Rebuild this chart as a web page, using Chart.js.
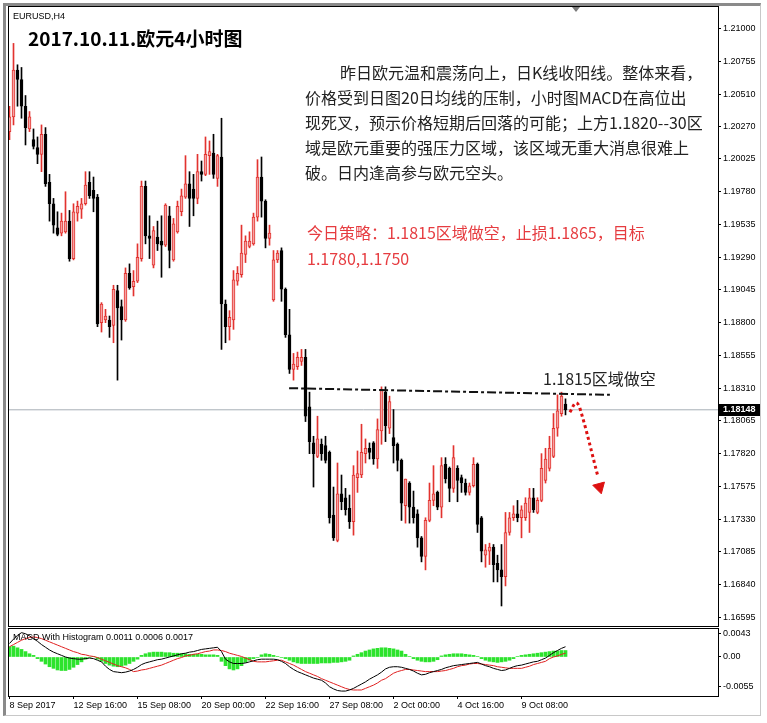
<!DOCTYPE html>
<html>
<head>
<meta charset="utf-8">
<script src="https://cdn.jsdelivr.net/npm/chart.js@4.4.1/dist/chart.umd.min.js"></script>
<style>
  body { margin:0; background:#fff; width:767px; height:723px; position:relative; overflow:hidden; font-family:"Liberation Sans", Arial, sans-serif; }
  .abs { position:absolute; }
  #outer { left:3px; top:3px; width:758px; height:713px; box-sizing:border-box; border-style:solid; border-width:3px 1px 1px 3px; border-color:#8a8a8a #c8c8c8 #c8c8c8 #8a8a8a; }
  #mainFrame { left:8px; top:6px; width:711px; height:621px; box-sizing:border-box; border:1px solid #000; }
  #macdFrame { left:8px; top:628px; width:711px; height:69px; box-sizing:border-box; border:1px solid #000; }
  #shiftMark { left:572px; top:7px; width:0; height:0; border-left:4px solid transparent; border-right:4px solid transparent; border-top:5px solid #7a7a7a; }
  .small { font-size:9px; line-height:12px; color:#000; white-space:pre; }
  .cjk { font-family:"Noto Sans CJK SC", sans-serif; white-space:pre; }
  #title { left:28px; top:26px; font-size:19px; line-height:24px; font-weight:bold; color:#000; }
  #para { left:305px; top:60px; font-size:16px; line-height:25px; color:#222; text-indent:35px; }
  #strategy { left:307px; top:219px; font-size:16px; line-height:26px; color:#e63c40; }
  #zone { left:543px; top:366px; font-size:16px; line-height:25px; color:#222; }
</style>
</head>
<body>
<canvas id="main" class="abs" width="767" height="628" style="left:0;top:0"></canvas>
<canvas id="macd" class="abs" width="767" height="103" style="left:0;top:620px"></canvas>

<div id="outer" class="abs"></div>
<div id="mainFrame" class="abs"></div>
<div id="macdFrame" class="abs"></div>
<div id="shiftMark" class="abs"></div>

<div class="abs small" style="left:13px;top:10px">EURUSD,H4</div>
<div id="title" class="abs cjk">2017.10.11.欧元4小时图</div>
<div id="para" class="abs cjk">昨日欧元温和震荡向上，日K线收阳线。整体来看，
价格受到日图20日均线的压制，小时图MACD在高位出
现死叉，预示价格短期后回落的可能；上方1.1820--30区
域是欧元重要的强压力区域，该区域无重大消息很难上
破。日内逢高参与欧元空头。</div>
<div id="strategy" class="abs cjk">今日策略：1.1815区域做空，止损1.1865，目标
1.1780,1.1750</div>
<div id="zone" class="abs cjk">1.1815区域做空</div>
<div class="abs small" style="left:13px;top:631px">MACD With Histogram 0.0011 0.0006 0.0017</div>

<script>
// EURUSD H4, 8 Sep 2017 00:00 -> 11 Oct 2017 04:00 (140 bars)
const opens = [
  1.2023,1.2034,1.2069,1.2062,1.2042,1.2025,1.2017,1.2011,1.2006,1.2021,
  1.1985,1.1969,1.1951,1.1947,1.1948,1.1956,1.1928,1.1962,1.1965,1.1969,
  1.1985,1.1979,1.1974,1.1880,1.1882,1.1882,1.1878,1.1904,1.1892,1.1882,
  1.1917,1.1907,1.1911,1.1928,1.1982,1.1945,1.1923,1.1944,1.1941,1.1938,
  1.1960,1.1927,1.1948,1.1963,1.1974,1.1984,1.1980,1.1973,1.1993,1.1991,
  1.2005,1.2007,1.1988,1.2004,1.1894,1.1877,1.1882,1.1911,1.1916,1.1931,
  1.1937,1.1939,1.1959,1.1989,1.1971,1.1943,1.1897,1.1927,1.1934,1.1905,
  1.1871,1.1845,1.1847,1.1851,1.1854,1.1817,1.1790,1.1780,1.1789,1.1788,
  1.1783,1.1736,1.1717,1.1752,1.1749,1.1741,1.1731,1.1764,1.1766,1.1782,
  1.1786,1.1790,1.1778,1.1799,1.1828,1.1801,1.1794,1.1789,1.1777,1.1743,
  1.1760,1.1742,1.1737,1.1719,1.1705,1.1732,1.1747,1.1753,1.1742,1.1774,
  1.1771,1.1756,1.1771,1.1764,1.1760,1.1753,1.1758,1.1774,1.1734,1.1706,
  1.1709,1.1712,1.1700,1.1695,1.1690,1.1723,1.1734,1.1737,1.1734,1.1734,
  1.1738,1.1749,1.1738,1.1747,1.1762,1.1771,1.1780,1.1801,1.1812,1.1819
];
const highs = [
  1.2042,1.2089,1.2073,1.2071,1.2050,1.2038,1.2025,1.2019,1.2028,1.2026,
  1.1991,1.1973,1.1963,1.1962,1.1978,1.1964,1.1969,1.1971,1.1973,1.1993,
  1.1993,1.1989,1.1976,1.1895,1.1890,1.1885,1.1908,1.1908,1.1897,1.1921,
  1.1924,1.1919,1.1939,1.1986,1.1986,1.1960,1.1952,1.1956,1.1960,1.1969,
  1.1967,1.1958,1.1971,1.1980,1.2005,1.1993,1.1991,1.2006,1.2001,1.2019,
  1.2016,1.2021,1.2006,1.2033,1.1897,1.1889,1.1919,1.1922,1.1953,1.1945,
  1.1948,1.1962,1.2002,1.2004,1.1972,1.1953,1.1934,1.1934,1.1936,1.1906,
  1.1890,1.1857,1.1858,1.1860,1.1860,1.1828,1.1795,1.1810,1.1793,1.1795,
  1.1784,1.1757,1.1775,1.1766,1.1756,1.1751,1.1773,1.1784,1.1804,1.1793,
  1.1790,1.1791,1.1808,1.1832,1.1832,1.1825,1.1815,1.1790,1.1778,1.1763,
  1.1761,1.1754,1.1740,1.1720,1.1734,1.1760,1.1773,1.1754,1.1779,1.1779,
  1.1772,1.1788,1.1773,1.1766,1.1763,1.1760,1.1779,1.1775,1.1735,1.1714,
  1.1715,1.1714,1.1706,1.1714,1.1738,1.1738,1.1743,1.1747,1.1743,1.1749,
  1.1756,1.1756,1.1749,1.1782,1.1786,1.1795,1.1812,1.1826,1.1828,1.1823
];
const lows = [
  1.2017,1.2028,1.2042,1.2033,1.2013,1.2023,1.2010,1.1999,1.1993,1.1982,
  1.1956,1.1947,1.1945,1.1945,1.1947,1.1926,1.1927,1.1956,1.1958,1.1968,
  1.1973,1.1963,1.1877,1.1873,1.1880,1.1869,1.1865,1.1837,1.1867,1.1881,
  1.1905,1.1900,1.1910,1.1926,1.1939,1.1928,1.1921,1.1934,1.1914,1.1937,
  1.1921,1.1926,1.1947,1.1960,1.1973,1.1952,1.1960,1.1969,1.1986,1.1990,
  1.1991,1.1988,1.1982,1.1860,1.1865,1.1867,1.1875,1.1908,1.1914,1.1925,
  1.1936,1.1938,1.1956,1.1959,1.1936,1.1938,1.1896,1.1925,1.1896,1.1869,
  1.1842,1.1837,1.1845,1.1848,1.1806,1.1782,1.1757,1.1779,1.1777,1.1775,
  1.1730,1.1717,1.1716,1.1740,1.1736,1.1726,1.1721,1.1753,1.1764,1.1775,
  1.1778,1.1774,1.1771,1.1789,1.1791,1.1797,1.1775,1.1769,1.1732,1.1730,
  1.1730,1.1730,1.1712,1.1701,1.1695,1.1731,1.1743,1.1740,1.1734,1.1760,
  1.1746,1.1753,1.1746,1.1753,1.1751,1.1751,1.1757,1.1723,1.1701,1.1697,
  1.1699,1.1686,1.1686,1.1668,1.1683,1.1721,1.1732,1.1731,1.1719,1.1732,
  1.1723,1.1738,1.1737,1.1746,1.1760,1.1769,1.1779,1.1795,1.1810,1.1811
];
const closes = [
  1.2034,1.2069,1.2062,1.2042,1.2026,1.2034,1.2012,1.2006,1.2021,1.1984,
  1.1969,1.1953,1.1946,1.1956,1.1956,1.1928,1.1963,1.1967,1.1969,1.1983,
  1.1975,1.1973,1.1879,1.1894,1.1885,1.1877,1.1905,1.1891,1.1882,1.1917,
  1.1906,1.1911,1.1929,1.1982,1.1945,1.1943,1.1949,1.1939,1.1938,1.1968,
  1.1934,1.1954,1.1967,1.1975,1.1984,1.1973,1.1973,1.1993,1.1991,1.2006,
  1.2008,1.1991,1.2005,1.1894,1.1877,1.1884,1.1912,1.1917,1.1932,1.1941,
  1.1941,1.1959,1.1989,1.1971,1.1943,1.1947,1.1927,1.1932,1.1905,1.1871,
  1.1845,1.1849,1.1854,1.1854,1.1810,1.1791,1.1782,1.1793,1.1782,1.1777,
  1.1734,1.1719,1.1752,1.1746,1.1740,1.1731,1.1766,1.1767,1.1783,1.1786,
  1.1783,1.1778,1.1800,1.1830,1.1803,1.1821,1.1788,1.1777,1.1745,1.1763,
  1.1742,1.1734,1.1719,1.1705,1.1732,1.1747,1.1752,1.1742,1.1773,1.1763,
  1.1756,1.1779,1.1762,1.1760,1.1753,1.1758,1.1774,1.1729,1.1709,1.1710,
  1.1712,1.1699,1.1695,1.1690,1.1723,1.1734,1.1737,1.1734,1.1740,1.1745,
  1.1749,1.1740,1.1747,1.1771,1.1778,1.1786,1.1801,1.1814,1.1825,1.18148
];

// MACD sub-window
const macdLine = [
  0.0025,0.0033,0.0040,0.0045,0.0043,0.0039,0.0034,0.0029,0.0023,0.0018,
  0.0013,0.0009,0.0006,0.0003,0.0000,-0.0002,-0.0003,-0.0004,-0.0004,-0.0003,
  -0.0002,-0.0003,-0.0006,-0.0009,-0.0017,-0.0023,-0.0027,-0.0028,-0.0029,-0.0028,
  -0.0026,-0.0023,-0.0019,-0.0014,-0.0011,-0.0009,-0.0007,-0.0005,-0.0004,-0.0002,
  0.0000,0.0002,0.0004,0.0006,0.0007,0.0009,0.0010,0.0012,0.0014,0.0015,
  0.0016,0.0017,0.0018,0.0010,-0.0004,-0.0009,-0.0012,-0.0012,-0.0012,-0.0011,
  -0.0009,-0.0007,-0.0005,-0.0004,-0.0004,-0.0004,-0.0004,-0.0005,-0.0008,-0.0012,
  -0.0018,-0.0023,-0.0027,-0.0030,-0.0033,-0.0036,-0.0039,-0.0041,-0.0043,-0.0048,
  -0.0055,-0.0059,-0.0062,-0.0063,-0.0063,-0.0061,-0.0058,-0.0054,-0.0050,-0.0046,
  -0.0041,-0.0037,-0.0033,-0.0028,-0.0022,-0.0019,-0.0018,-0.0018,-0.0019,-0.0021,
  -0.0023,-0.0026,-0.0030,-0.0033,-0.0032,-0.0029,-0.0027,-0.0025,-0.0023,-0.0020,
  -0.0018,-0.0016,-0.0015,-0.0014,-0.0013,-0.0012,-0.0011,-0.0010,-0.0013,-0.0016,
  -0.0018,-0.0021,-0.0023,-0.0025,-0.0024,-0.0021,-0.0018,-0.0016,-0.0015,-0.0013,
  -0.0011,-0.0009,-0.0008,-0.0005,-0.0002,0.0003,0.0008,0.0012,0.0016,0.0019
];
const signalLine = [
  0.0019,0.0023,0.0027,0.0031,0.0034,0.0036,0.0037,0.0036,0.0034,0.0031,
  0.0028,0.0025,0.0022,0.0019,0.0016,0.0013,0.0010,0.0008,0.0005,0.0004,
  0.0002,0.0001,-0.0001,-0.0004,-0.0007,-0.0010,-0.0013,-0.0016,-0.0018,-0.0020,
  -0.0023,-0.0027,-0.0026,-0.0024,-0.0023,-0.0021,-0.0019,-0.0017,-0.0015,-0.0012,
  -0.0009,-0.0006,-0.0003,-0.0001,0.0002,0.0003,0.0005,0.0006,0.0008,0.0010,
  0.0011,0.0013,0.0013,0.0012,0.0010,0.0007,0.0005,0.0003,0.0001,-0.0002,
  -0.0005,-0.0008,-0.0009,-0.0009,-0.0009,-0.0008,-0.0007,-0.0006,-0.0006,-0.0009,
  -0.0012,-0.0015,-0.0019,-0.0023,-0.0027,-0.0030,-0.0033,-0.0036,-0.0040,-0.0043,
  -0.0046,-0.0049,-0.0052,-0.0055,-0.0058,-0.0060,-0.0061,-0.0061,-0.0061,-0.0058,
  -0.0055,-0.0052,-0.0048,-0.0043,-0.0040,-0.0035,-0.0030,-0.0027,-0.0025,-0.0023,
  -0.0023,-0.0024,-0.0025,-0.0026,-0.0027,-0.0027,-0.0027,-0.0027,-0.0026,-0.0025,
  -0.0023,-0.0021,-0.0018,-0.0016,-0.0015,-0.0013,-0.0012,-0.0012,-0.0013,-0.0014,
  -0.0015,-0.0016,-0.0018,-0.0019,-0.0020,-0.0021,-0.0021,-0.0021,-0.0021,-0.0019,
  -0.0017,-0.0014,-0.0012,-0.0010,-0.0008,-0.0003,0.0000,0.0002,0.0005,0.0007
];
const histogram = [
  0.0019,0.0020,0.0017,0.0014,0.0010,0.0006,0.0003,-0.0003,-0.0008,-0.0013,
  -0.0018,-0.0021,-0.0024,-0.0025,-0.0025,-0.0023,-0.0019,-0.0014,-0.0009,-0.0004,
  -0.0001,0.0001,-0.0004,-0.0008,-0.0012,-0.0015,-0.0017,-0.0018,-0.0017,-0.0015,
  -0.0012,-0.0008,-0.0004,0.0003,0.0006,0.0008,0.0009,0.0009,0.0009,0.0008,
  0.0008,0.0007,0.0007,0.0006,0.0006,0.0005,0.0005,0.0005,0.0005,0.0004,
  0.0004,0.0004,0.0003,-0.0008,-0.0016,-0.0022,-0.0024,-0.0022,-0.0016,-0.0010,
  -0.0006,-0.0003,-0.0001,0.0004,0.0006,0.0005,0.0003,0.0001,-0.0001,-0.0003,
  -0.0006,-0.0009,-0.0011,-0.0012,-0.0012,-0.0012,-0.0012,-0.0012,-0.0011,-0.0011,
  -0.0011,-0.0010,-0.0010,-0.0009,-0.0008,-0.0006,0.0002,0.0005,0.0008,0.0011,
  0.0013,0.0015,0.0016,0.0017,0.0017,0.0016,0.0015,0.0013,0.0011,0.0005,
  0.0001,-0.0003,-0.0006,-0.0008,-0.0009,-0.0009,-0.0008,-0.0005,0.0002,0.0004,
  0.0005,0.0006,0.0006,0.0006,0.0005,0.0004,0.0003,0.0001,-0.0003,-0.0006,
  -0.0008,-0.0009,-0.0010,-0.0009,-0.0008,-0.0006,-0.0003,0.0001,0.0003,0.0004,
  0.0005,0.0006,0.0007,0.0008,0.0009,0.0010,0.0011,0.0011,0.0012,0.0012
];

const priceTicks = [1.21000,1.20755,1.20510,1.20270,1.20025,1.19780,1.19535,1.19290,1.19045,1.18800,
  1.18555,1.18310,1.18065,1.17820,1.17575,1.17330,1.17085,1.16840,1.16595];
const macdTicks = [0.0043, 0, -0.0055];
const macdTickLabels = ["0.0043", "0.00", "-0.0055"];
const timeTickIndex = [0, 16, 32, 48, 64, 80, 96, 112, 128];
const timeLabels = ["8 Sep 2017","12 Sep 16:00","15 Sep 08:00","20 Sep 00:00","22 Sep 16:00",
  "27 Sep 08:00","2 Oct 00:00","4 Oct 16:00","9 Oct 08:00"];

// drawn annotations (bar index, price)
const shortLineX = [69.9, 150.1];
const shortLineY = [1.1831, 1.1826];
const arrowX = [140.1, 141.6, 142.6, 147.1];
const arrowY = [1.1813, 1.1820, 1.1816, 1.1765];
const arrowHead = { x: 147.5, y: 1.1757 };

const lastPrice = closes[closes.length - 1];
const RED = "#e2332f";
const BULL_FILL = "#f5a3a3";
const X_MIN = -0.125, X_MAX = 177.125;

const idx = closes.map((c, i) => i);
const bull = closes.map((c, i) => c >= opens[i]);
const tickFont = { family: "Liberation Sans", size: 9 };

const priceTag = {
  id: "priceTag",
  afterDraw(chart) {
    const ctx = chart.ctx;
    const y = Math.round(chart.scales.y.getPixelForValue(lastPrice));
    ctx.save();
    ctx.fillStyle = "#000";
    ctx.fillRect(719, y - 6, 42, 12);
    ctx.fillStyle = "#fff";
    ctx.font = "bold 9px 'Liberation Sans'";
    ctx.textBaseline = "middle";
    ctx.fillText(lastPrice.toFixed(5), 723, y);
    ctx.restore();
  }
};

new Chart(document.getElementById("main"), {
  type: "bar",
  data: {
    datasets: [
      {
        type: "line",
        data: [{ x: X_MIN, y: lastPrice }, { x: X_MAX, y: lastPrice }],
        borderColor: "#a7afb6", borderWidth: 1, pointRadius: 0, order: 6
      },
      {
        data: idx.map(i => ({ x: i, y: [lows[i], highs[i]] })),
        backgroundColor: ctx => bull[ctx.dataIndex] ? RED : "#000",
        barThickness: 1, grouped: false, order: 4
      },
      {
        data: idx.map(i => ({ x: i, y: [opens[i], closes[i]] })),
        backgroundColor: ctx => bull[ctx.dataIndex] ? BULL_FILL : "#000",
        borderColor: ctx => bull[ctx.dataIndex] ? RED : "#000",
        borderWidth: 1, borderSkipped: false, minBarLength: 1,
        barThickness: 3, grouped: false, order: 3
      },
      {
        type: "line",
        data: shortLineX.map((x, i) => ({ x: x, y: shortLineY[i] })),
        borderColor: "#111", borderWidth: 2, borderDash: [9, 3, 3, 3], pointRadius: 0, order: 2
      },
      {
        type: "line",
        data: arrowX.map((x, i) => ({ x: x, y: arrowY[i] })),
        borderColor: "#dd1111", borderWidth: 3, borderDash: [3, 3], tension: 0.4,
        pointRadius: 0, order: 1
      },
      {
        type: "line",
        data: [arrowHead],
        showLine: false, pointStyle: "triangle", pointRadius: 7, rotation: 165,
        backgroundColor: "#dd1111", borderColor: "#dd1111", order: 0
      }
    ]
  },
  options: {
    responsive: false,
    animation: false,
    devicePixelRatio: 1,
    layout: { padding: { left: 9, top: 7, right: 0, bottom: 2 } },
    plugins: { legend: { display: false }, tooltip: { enabled: false } },
    scales: {
      x: { type: "linear", min: X_MIN, max: X_MAX, offset: false, display: false },
      y: {
        position: "right",
        min: 1.16575, max: 1.21155,
        afterFit: s => { s.width = 49; },
        afterBuildTicks: s => { s.ticks = priceTicks.map(v => ({ value: v })); },
        ticks: { callback: v => v.toFixed(5), color: "#000", font: tickFont, padding: 2, autoSkip: false },
        grid: { drawOnChartArea: false, tickLength: 3, color: "#000" },
        border: { display: false }
      }
    }
  },
  plugins: [priceTag]
});

new Chart(document.getElementById("macd"), {
  type: "bar",
  data: {
    datasets: [
      {
        data: idx.map(i => ({ x: i, y: histogram[i] })),
        backgroundColor: "#2de32d", barThickness: 3, grouped: false, order: 3
      },
      {
        type: "line",
        data: idx.map(i => ({ x: i, y: signalLine[i] })),
        borderColor: "#e02020", borderWidth: 1, pointRadius: 0, order: 2
      },
      {
        type: "line",
        data: idx.map(i => ({ x: i, y: macdLine[i] })),
        borderColor: "#000", borderWidth: 1, pointRadius: 0, order: 1
      }
    ]
  },
  options: {
    responsive: false,
    animation: false,
    devicePixelRatio: 1,
    layout: { padding: { left: 9, top: 8, right: 0, bottom: 0 } },
    plugins: { legend: { display: false }, tooltip: { enabled: false } },
    scales: {
      x: {
        type: "linear", min: X_MIN, max: X_MAX, offset: false,
        afterFit: s => { s.height = 27; },
        afterBuildTicks: s => { s.ticks = timeTickIndex.map(v => ({ value: v })); },
        ticks: {
          callback: (v, i) => timeLabels[i], align: "start", maxRotation: 0,
          autoSkip: false, padding: 1, color: "#000", font: tickFont
        },
        grid: { drawOnChartArea: false, offset: false, tickLength: 3, color: "#000" },
        border: { display: false }
      },
      y: {
        position: "right",
        min: -0.007212, max: 0.005362,
        afterFit: s => { s.width = 49; },
        afterBuildTicks: s => { s.ticks = macdTicks.map(v => ({ value: v })); },
        ticks: { callback: (v, i) => macdTickLabels[i], color: "#000", font: tickFont, padding: 2, autoSkip: false },
        grid: { drawOnChartArea: false, tickLength: 3, color: "#000" },
        border: { display: false }
      }
    }
  }
});
</script>
</body>
</html>
